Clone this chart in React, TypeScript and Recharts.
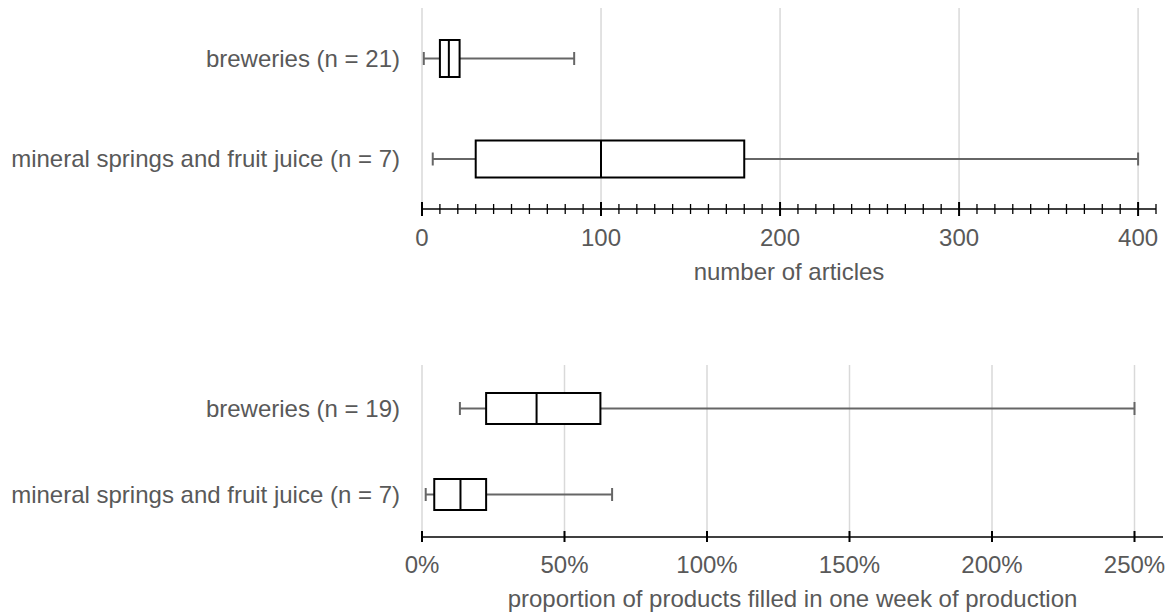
import React from "react";
import { ComposedChart, Bar, XAxis, YAxis, CartesianGrid } from "recharts";

const FONT = "'Liberation Sans', Arial, sans-serif";
const TEXT = "#595959";

// top chart: number of articles
const articleCategories = [
  "breweries (n = 21)",
  "mineral springs and fruit juice (n = 7)",
];
const articleMin = [1, 6];
const articleQ1 = [10, 30];
const articleMedian = [15, 100];
const articleQ3 = [21, 180];
const articleMax = [85, 400];
const articleTicks = Array.from({ length: 42 }, (_, i) => i * 10);
const articleGrid = [0, 100, 200, 300, 400];

// bottom chart: share of products filled in one week (percent)
const shareCategories = [
  "breweries (n = 19)",
  "mineral springs and fruit juice (n = 7)",
];
const shareMin = [13.3, 1.3];
const shareQ1 = [22.5, 4.3];
const shareMedian = [40.2, 13.5];
const shareQ3 = [62.6, 22.5];
const shareMax = [250, 66.7];
const shareTicks = [0, 50, 100, 150, 200, 250];

const buildRows = (
  cats: string[],
  min: number[],
  q1: number[],
  med: number[],
  q3: number[],
  max: number[],
) =>
  cats.map((name, i) => ({
    name,
    min: min[i],
    q1: q1[i],
    median: med[i],
    q3: q3[i],
    max: max[i],
    range: [min[i], max[i]],
  }));

const articleRows = buildRows(
  articleCategories,
  articleMin,
  articleQ1,
  articleMedian,
  articleQ3,
  articleMax,
);
const shareRows = buildRows(
  shareCategories,
  shareMin,
  shareQ1,
  shareMedian,
  shareQ3,
  shareMax,
);

// box + whiskers, positioned from the range bar the library lays out
const BoxShape = (props: any) => {
  const { x, y, width, height, payload } = props;
  if (!payload) return null;
  const left = Math.min(x, x + width);
  const w = Math.abs(width);
  const px = (v: number) =>
    left + ((v - payload.min) / (payload.max - payload.min)) * w;
  const cy = y + height / 2;
  const cap = 6.5;
  return (
    <g>
      <line x1={px(payload.min)} x2={px(payload.q1)} y1={cy} y2={cy} stroke="#666" strokeWidth={2} />
      <line x1={px(payload.q3)} x2={px(payload.max)} y1={cy} y2={cy} stroke="#666" strokeWidth={2} />
      <line x1={px(payload.min)} x2={px(payload.min)} y1={cy - cap} y2={cy + cap} stroke="#666" strokeWidth={2} />
      <line x1={px(payload.max)} x2={px(payload.max)} y1={cy - cap} y2={cy + cap} stroke="#666" strokeWidth={2} />
      <rect
        x={px(payload.q1)}
        y={y}
        width={px(payload.q3) - px(payload.q1)}
        height={height}
        fill="#fff"
        stroke="#000"
        strokeWidth={2}
      />
      <line x1={px(payload.median)} x2={px(payload.median)} y1={y} y2={y + height} stroke="#000" strokeWidth={2} />
    </g>
  );
};

const ArticleTick = (props: any) => {
  const { x, y, payload } = props;
  const major = payload.value % 100 === 0;
  const h = major ? 7 : 5;
  return (
    <g>
      <line x1={x} x2={x} y1={y - h} y2={y + h} stroke="#000" strokeWidth={major ? 2 : 1.3} />
      {major && (
        <text x={x} y={y + 37} textAnchor="middle" fill={TEXT} fontSize={24} fontFamily={FONT}>
          {payload.value}
        </text>
      )}
    </g>
  );
};

const ShareTick = (props: any) => {
  const { x, y, payload } = props;
  return (
    <g>
      <line x1={x} x2={x} y1={y - 6} y2={y + 5} stroke="#000" strokeWidth={2} />
      <text x={x} y={y + 36} textAnchor="middle" fill={TEXT} fontSize={24} fontFamily={FONT}>
        {`${payload.value}%`}
      </text>
    </g>
  );
};

const axisTitle = (title: string, offset: number) => (props: any) => {
  const vb = props.viewBox || {};
  return (
    <text
      x={vb.x + vb.width / 2}
      y={vb.y + offset}
      textAnchor="middle"
      fill={TEXT}
      fontSize={24}
      fontFamily={FONT}
    >
      {title}
    </text>
  );
};

const catTick = { fill: TEXT, fontSize: 24, fontFamily: FONT };

export default function App() {
  return (
    <div style={{ position: "absolute", left: 0, top: 0, width: 1175, height: 616, background: "#fff" }}>
      <ComposedChart
        layout="vertical"
        width={1175}
        height={300}
        data={articleRows}
        margin={{ top: 8, right: 19, left: 0, bottom: 0 }}
      >
        <CartesianGrid horizontal={false} verticalValues={articleGrid} stroke="#d9d9d9" strokeWidth={1.5} />
        <XAxis
          type="number"
          domain={[0, 410]}
          ticks={articleTicks}
          interval={0}
          height={91}
          tickSize={0}
          tickMargin={0}
          tickLine={false}
          axisLine={{ stroke: "#000", strokeWidth: 1.5 }}
          tick={<ArticleTick />}
          label={axisTitle("number of articles", 71)}
        />
        <YAxis
          type="category"
          dataKey="name"
          width={422}
          tickSize={0}
          tickMargin={22}
          tickLine={false}
          axisLine={false}
          tick={catTick}
        />
        <Bar dataKey="range" barSize={37} shape={<BoxShape />} isAnimationActive={false} />
      </ComposedChart>
      <ComposedChart
        layout="vertical"
        width={1175}
        height={316}
        data={shareRows}
        margin={{ top: 65, right: 12, left: 0, bottom: 0 }}
      >
        <CartesianGrid horizontal={false} verticalValues={shareTicks} stroke="#d9d9d9" strokeWidth={1.5} />
        <XAxis
          type="number"
          domain={[0, 260]}
          ticks={shareTicks}
          interval={0}
          height={79}
          tickSize={0}
          tickMargin={0}
          tickLine={false}
          axisLine={{ stroke: "#000", strokeWidth: 1.5 }}
          tick={<ShareTick />}
          label={axisTitle("proportion of products filled in one week of production", 70)}
        />
        <YAxis
          type="category"
          dataKey="name"
          width={422}
          tickSize={0}
          tickMargin={22}
          tickLine={false}
          axisLine={false}
          tick={catTick}
        />
        <Bar dataKey="range" barSize={31} shape={<BoxShape />} isAnimationActive={false} />
      </ComposedChart>
    </div>
  );
}
